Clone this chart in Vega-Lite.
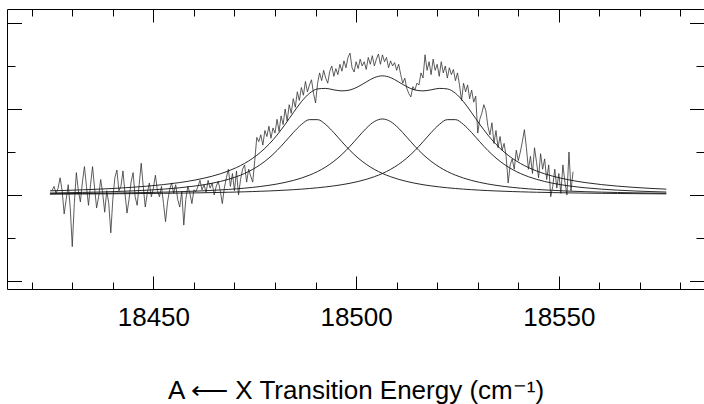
{
"$schema": "https://vega.github.io/schema/vega-lite/v6.json",
"width": 697,
"height": 280,
"autosize": {"type": "none"},
"padding": {"left": 7, "top": 9, "right": 0, "bottom": 115},
"background": "white",
"config": {"view": {"stroke": null}, "font": "Liberation Sans",
  "axis": {"grid": false, "domainColor": "#000", "domainWidth": 1, "tickColor": "#000", "tickWidth": 1, "labelColor": "#000", "titleColor": "#000", "labelFont": "Liberation Sans", "titleFont": "Liberation Sans"}},
"datasets": {
"spec": [
{"x":18425,"y":0.05},{"x":18425.5,"y":0.10},{"x":18426,"y":0.02},{"x":18426.5,"y":0.08},{"x":18427,"y":0.20},{"x":18427.5,"y":0.05},{"x":18428,"y":-0.22},{"x":18428.5,"y":-0.05},{"x":18429,"y":0.12},{"x":18429.5,"y":-0.15},
{"x":18430,"y":-0.60},{"x":18430.5,"y":-0.10},{"x":18431,"y":0.26},{"x":18431.5,"y":0.05},{"x":18432,"y":-0.08},{"x":18432.5,"y":0.15},{"x":18433,"y":0.33},{"x":18433.5,"y":0.10},{"x":18434,"y":-0.12},{"x":18434.5,"y":0.12},
{"x":18435,"y":0.33},{"x":18435.5,"y":0.08},{"x":18436,"y":-0.15},{"x":18436.5,"y":-0.02},{"x":18437,"y":0.18},{"x":18437.5,"y":0.02},{"x":18438,"y":-0.20},{"x":18438.5,"y":0.05},{"x":18439,"y":-0.10},{"x":18439.5,"y":-0.44},
{"x":18440,"y":-0.05},{"x":18440.5,"y":0.20},{"x":18441,"y":0.29},{"x":18441.5,"y":0.05},{"x":18442,"y":0.10},{"x":18442.5,"y":0.28},{"x":18443,"y":0.02},{"x":18443.5,"y":-0.21},{"x":18444,"y":-0.05},{"x":18444.5,"y":0.15},
{"x":18445,"y":0.26},{"x":18445.5,"y":-0.02},{"x":18446,"y":-0.12},{"x":18446.5,"y":0.12},{"x":18447,"y":0.37},{"x":18447.5,"y":0.10},{"x":18448,"y":-0.14},{"x":18448.5,"y":0.02},{"x":18449,"y":0.14},{"x":18449.5,"y":-0.02},
{"x":18450,"y":0.08},{"x":18450.5,"y":0.23},{"x":18451,"y":0.05},{"x":18451.5,"y":-0.02},{"x":18452,"y":0.10},{"x":18452.5,"y":-0.10},{"x":18453,"y":-0.31},{"x":18453.5,"y":-0.08},{"x":18454,"y":0.06},{"x":18454.5,"y":0.14},
{"x":18455,"y":0.02},{"x":18455.5,"y":0.12},{"x":18456,"y":-0.05},{"x":18456.5,"y":-0.14},{"x":18457,"y":0.04},{"x":18457.5,"y":-0.35},{"x":18458,"y":-0.05},{"x":18458.5,"y":0.10},{"x":18459,"y":0.02},{"x":18459.5,"y":-0.10},
{"x":18460,"y":0.06},{"x":18460.5,"y":0.04},{"x":18461,"y":0.10},{"x":18461.5,"y":0.17},{"x":18462,"y":0.06},{"x":18462.5,"y":0.12},{"x":18463,"y":0.03},{"x":18463.5,"y":0.17},{"x":18464,"y":0.08},{"x":18464.5,"y":0.14},
{"x":18465,"y":0.00},{"x":18465.5,"y":0.10},{"x":18466,"y":0.16},{"x":18466.5,"y":0.05},{"x":18467,"y":-0.10},{"x":18467.5,"y":0.08},{"x":18468,"y":0.20},{"x":18468.5,"y":0.30},{"x":18469,"y":0.10},{"x":18469.5,"y":0.25},
{"x":18470,"y":0.05},{"x":18470.5,"y":0.28},{"x":18471,"y":0.00},{"x":18471.5,"y":0.18},{"x":18472,"y":0.30},{"x":18472.5,"y":0.35},{"x":18473,"y":0.15},{"x":18473.5,"y":0.30},{"x":18474,"y":0.22},{"x":18474.5,"y":0.15},
{"x":18475,"y":0.40},{"x":18475.5,"y":0.67},{"x":18476,"y":0.62},{"x":18476.5,"y":0.70},{"x":18477,"y":0.58},{"x":18477.5,"y":0.75},{"x":18478,"y":0.68},{"x":18478.5,"y":0.80},{"x":18479,"y":0.66},{"x":18479.5,"y":0.78},
{"x":18480,"y":0.72},{"x":18480.5,"y":0.88},{"x":18481,"y":0.74},{"x":18481.5,"y":0.92},{"x":18482,"y":0.82},{"x":18482.5,"y":1.00},{"x":18483,"y":0.86},{"x":18483.5,"y":1.05},{"x":18484,"y":0.95},{"x":18484.5,"y":1.12},
{"x":18485,"y":1.02},{"x":18485.5,"y":1.20},{"x":18486,"y":1.10},{"x":18486.5,"y":1.25},{"x":18487,"y":1.16},{"x":18487.5,"y":1.32},{"x":18488,"y":1.20},{"x":18488.5,"y":1.28},{"x":18489,"y":1.34},{"x":18489.5,"y":1.18},
{"x":18490,"y":1.07},{"x":18490.5,"y":1.30},{"x":18491,"y":1.42},{"x":18491.5,"y":1.33},{"x":18492,"y":1.45},{"x":18492.5,"y":1.36},{"x":18493,"y":1.30},{"x":18493.5,"y":1.44},{"x":18494,"y":1.50},{"x":18494.5,"y":1.38},
{"x":18495,"y":1.47},{"x":18495.5,"y":1.40},{"x":18496,"y":1.52},{"x":18496.5,"y":1.44},{"x":18497,"y":1.56},{"x":18497.5,"y":1.48},{"x":18498,"y":1.60},{"x":18498.5,"y":1.65},{"x":18499,"y":1.48},{"x":18499.5,"y":1.43},
{"x":18500,"y":1.55},{"x":18500.5,"y":1.47},{"x":18501,"y":1.58},{"x":18501.5,"y":1.50},{"x":18502,"y":1.55},{"x":18502.5,"y":1.46},{"x":18503,"y":1.60},{"x":18503.5,"y":1.52},{"x":18504,"y":1.62},{"x":18504.5,"y":1.50},
{"x":18505,"y":1.58},{"x":18505.5,"y":1.64},{"x":18506,"y":1.52},{"x":18506.5,"y":1.63},{"x":18507,"y":1.55},{"x":18507.5,"y":1.60},{"x":18508,"y":1.48},{"x":18508.5,"y":1.56},{"x":18509,"y":1.50},{"x":18509.5,"y":1.54},
{"x":18510,"y":1.45},{"x":18510.5,"y":1.52},{"x":18511,"y":1.40},{"x":18511.5,"y":1.30},{"x":18512,"y":1.36},{"x":18512.5,"y":1.24},{"x":18513,"y":1.18},{"x":18513.5,"y":1.14},{"x":18514,"y":1.26},{"x":18514.5,"y":1.22},
{"x":18515,"y":1.30},{"x":18515.5,"y":1.28},{"x":18516,"y":1.42},{"x":18516.5,"y":1.36},{"x":18517,"y":1.63},{"x":18517.5,"y":1.45},{"x":18518,"y":1.55},{"x":18518.5,"y":1.40},{"x":18519,"y":1.58},{"x":18519.5,"y":1.45},
{"x":18520,"y":1.52},{"x":18520.5,"y":1.38},{"x":18521,"y":1.55},{"x":18521.5,"y":1.42},{"x":18522,"y":1.50},{"x":18522.5,"y":1.36},{"x":18523,"y":1.48},{"x":18523.5,"y":1.40},{"x":18524,"y":1.46},{"x":18524.5,"y":1.33},
{"x":18525,"y":1.42},{"x":18525.5,"y":1.28},{"x":18526,"y":1.10},{"x":18526.5,"y":1.30},{"x":18527,"y":1.20},{"x":18527.5,"y":1.28},{"x":18528,"y":1.12},{"x":18528.5,"y":1.22},{"x":18529,"y":1.08},{"x":18529.5,"y":1.15},
{"x":18530,"y":0.72},{"x":18530.5,"y":0.88},{"x":18531,"y":0.95},{"x":18531.5,"y":1.05},{"x":18532,"y":0.98},{"x":18532.5,"y":0.80},{"x":18533,"y":0.70},{"x":18533.5,"y":0.84},{"x":18534,"y":0.60},{"x":18534.5,"y":0.75},
{"x":18535,"y":0.55},{"x":18535.5,"y":0.68},{"x":18536,"y":0.52},{"x":18536.5,"y":0.60},{"x":18537,"y":0.45},{"x":18537.5,"y":0.14},{"x":18538,"y":0.35},{"x":18538.5,"y":0.42},{"x":18539,"y":0.30},{"x":18539.5,"y":0.52},
{"x":18540,"y":0.40},{"x":18540.5,"y":0.50},{"x":18541,"y":0.62},{"x":18541.5,"y":0.76},{"x":18542,"y":0.55},{"x":18542.5,"y":0.30},{"x":18543,"y":0.45},{"x":18543.5,"y":0.25},{"x":18544,"y":0.55},{"x":18544.5,"y":0.38},
{"x":18545,"y":0.20},{"x":18545.5,"y":0.48},{"x":18546,"y":0.30},{"x":18546.5,"y":0.42},{"x":18547,"y":0.18},{"x":18547.5,"y":0.35},{"x":18548,"y":-0.02},{"x":18548.5,"y":0.10},{"x":18549,"y":0.30},{"x":18549.5,"y":0.08},
{"x":18550,"y":0.25},{"x":18550.5,"y":0.02},{"x":18551,"y":0.35},{"x":18551.5,"y":0.15},{"x":18552,"y":0.00},{"x":18552.5,"y":0.50},{"x":18553,"y":0.05},{"x":18553.5,"y":0.27}
],
"fit": [
{"x":18424.5,"c":"L1","y":0.0233},{"x":18424.5,"c":"L2","y":0.0148},{"x":18424.5,"c":"L3","y":0.0102},{"x":18424.5,"c":"S","y":0.0483},
{"x":18428.5,"c":"L1","y":0.0264},{"x":18428.5,"c":"L2","y":0.0163},{"x":18428.5,"c":"L3","y":0.0111},{"x":18428.5,"c":"S","y":0.0538},
{"x":18432.5,"c":"L1","y":0.0301},{"x":18432.5,"c":"L2","y":0.0181},{"x":18432.5,"c":"L3","y":0.0121},{"x":18432.5,"c":"S","y":0.0603},
{"x":18436.5,"c":"L1","y":0.0346},{"x":18436.5,"c":"L2","y":0.0202},{"x":18436.5,"c":"L3","y":0.0132},{"x":18436.5,"c":"S","y":0.0680},
{"x":18440.5,"c":"L1","y":0.0402},{"x":18440.5,"c":"L2","y":0.0226},{"x":18440.5,"c":"L3","y":0.0145},{"x":18440.5,"c":"S","y":0.0773},
{"x":18444.5,"c":"L1","y":0.0473},{"x":18444.5,"c":"L2","y":0.0256},{"x":18444.5,"c":"L3","y":0.0159},{"x":18444.5,"c":"S","y":0.0888},
{"x":18448.5,"c":"L1","y":0.0564},{"x":18448.5,"c":"L2","y":0.0291},{"x":18448.5,"c":"L3","y":0.0176},{"x":18448.5,"c":"S","y":0.1031},
{"x":18452.5,"c":"L1","y":0.0682},{"x":18452.5,"c":"L2","y":0.0334},{"x":18452.5,"c":"L3","y":0.0196},{"x":18452.5,"c":"S","y":0.1212},
{"x":18456.5,"c":"L1","y":0.0841},{"x":18456.5,"c":"L2","y":0.0387},{"x":18456.5,"c":"L3","y":0.0220},{"x":18456.5,"c":"S","y":0.1448},
{"x":18460.5,"c":"L1","y":0.1059},{"x":18460.5,"c":"L2","y":0.0454},{"x":18460.5,"c":"L3","y":0.0248},{"x":18460.5,"c":"S","y":0.1761},
{"x":18462.5,"c":"L1","y":0.1200},{"x":18462.5,"c":"L2","y":0.0494},{"x":18462.5,"c":"L3","y":0.0264},{"x":18462.5,"c":"S","y":0.1958},
{"x":18464.5,"c":"L1","y":0.1369},{"x":18464.5,"c":"L2","y":0.0539},{"x":18464.5,"c":"L3","y":0.0281},{"x":18464.5,"c":"S","y":0.2189},
{"x":18466.5,"c":"L1","y":0.1573},{"x":18466.5,"c":"L2","y":0.0590},{"x":18466.5,"c":"L3","y":0.0301},{"x":18466.5,"c":"S","y":0.2464},
{"x":18468.5,"c":"L1","y":0.1822},{"x":18468.5,"c":"L2","y":0.0649},{"x":18468.5,"c":"L3","y":0.0322},{"x":18468.5,"c":"S","y":0.2793},
{"x":18470.5,"c":"L1","y":0.2129},{"x":18470.5,"c":"L2","y":0.0718},{"x":18470.5,"c":"L3","y":0.0346},{"x":18470.5,"c":"S","y":0.3193},
{"x":18472.5,"c":"L1","y":0.2508},{"x":18472.5,"c":"L2","y":0.0797},{"x":18472.5,"c":"L3","y":0.0373},{"x":18472.5,"c":"S","y":0.3678},
{"x":18474.5,"c":"L1","y":0.2981},{"x":18474.5,"c":"L2","y":0.0889},{"x":18474.5,"c":"L3","y":0.0402},{"x":18474.5,"c":"S","y":0.4272},
{"x":18476.5,"c":"L1","y":0.3570},{"x":18476.5,"c":"L2","y":0.0998},{"x":18476.5,"c":"L3","y":0.0436},{"x":18476.5,"c":"S","y":0.5004},
{"x":18478.5,"c":"L1","y":0.4298},{"x":18478.5,"c":"L2","y":0.1126},{"x":18478.5,"c":"L3","y":0.0473},{"x":18478.5,"c":"S","y":0.5897},
{"x":18480.5,"c":"L1","y":0.5177},{"x":18480.5,"c":"L2","y":0.1280},{"x":18480.5,"c":"L3","y":0.0515},{"x":18480.5,"c":"S","y":0.6972},
{"x":18482.5,"c":"L1","y":0.6190},{"x":18482.5,"c":"L2","y":0.1466},{"x":18482.5,"c":"L3","y":0.0564},{"x":18482.5,"c":"S","y":0.8220},
{"x":18484.5,"c":"L1","y":0.7255},{"x":18484.5,"c":"L2","y":0.1691},{"x":18484.5,"c":"L3","y":0.0619},{"x":18484.5,"c":"S","y":0.9565},
{"x":18486.5,"c":"L1","y":0.8196},{"x":18486.5,"c":"L2","y":0.1967},{"x":18486.5,"c":"L3","y":0.0682},{"x":18486.5,"c":"S","y":1.0845},
{"x":18488.5,"c":"L1","y":0.8763},{"x":18488.5,"c":"L2","y":0.2308},{"x":18488.5,"c":"L3","y":0.0756},{"x":18488.5,"c":"S","y":1.1827},
{"x":18490.5,"c":"L1","y":0.8763},{"x":18490.5,"c":"L2","y":0.2732},{"x":18490.5,"c":"L3","y":0.0841},{"x":18490.5,"c":"S","y":1.2336},
{"x":18492.5,"c":"L1","y":0.8196},{"x":18492.5,"c":"L2","y":0.3260},{"x":18492.5,"c":"L3","y":0.0941},{"x":18492.5,"c":"S","y":1.2397},
{"x":18494.5,"c":"L1","y":0.7255},{"x":18494.5,"c":"L2","y":0.3915},{"x":18494.5,"c":"L3","y":0.1059},{"x":18494.5,"c":"S","y":1.2229},
{"x":18496.5,"c":"L1","y":0.6190},{"x":18496.5,"c":"L2","y":0.4719},{"x":18496.5,"c":"L3","y":0.1200},{"x":18496.5,"c":"S","y":1.2109},
{"x":18498.5,"c":"L1","y":0.5177},{"x":18498.5,"c":"L2","y":0.5670},{"x":18498.5,"c":"L3","y":0.1369},{"x":18498.5,"c":"S","y":1.2216},
{"x":18500.5,"c":"L1","y":0.4298},{"x":18500.5,"c":"L2","y":0.6726},{"x":18500.5,"c":"L3","y":0.1573},{"x":18500.5,"c":"S","y":1.2597},
{"x":18502.5,"c":"L1","y":0.3570},{"x":18502.5,"c":"L2","y":0.7756},{"x":18502.5,"c":"L3","y":0.1822},{"x":18502.5,"c":"S","y":1.3148},
{"x":18504.5,"c":"L1","y":0.2981},{"x":18504.5,"c":"L2","y":0.8542},{"x":18504.5,"c":"L3","y":0.2129},{"x":18504.5,"c":"S","y":1.3652},
{"x":18506.5,"c":"L1","y":0.2508},{"x":18506.5,"c":"L2","y":0.8840},{"x":18506.5,"c":"L3","y":0.2508},{"x":18506.5,"c":"S","y":1.3856},
{"x":18508.5,"c":"L1","y":0.2129},{"x":18508.5,"c":"L2","y":0.8542},{"x":18508.5,"c":"L3","y":0.2981},{"x":18508.5,"c":"S","y":1.3652},
{"x":18510.5,"c":"L1","y":0.1822},{"x":18510.5,"c":"L2","y":0.7756},{"x":18510.5,"c":"L3","y":0.3570},{"x":18510.5,"c":"S","y":1.3148},
{"x":18512.5,"c":"L1","y":0.1573},{"x":18512.5,"c":"L2","y":0.6726},{"x":18512.5,"c":"L3","y":0.4298},{"x":18512.5,"c":"S","y":1.2597},
{"x":18514.5,"c":"L1","y":0.1369},{"x":18514.5,"c":"L2","y":0.5670},{"x":18514.5,"c":"L3","y":0.5177},{"x":18514.5,"c":"S","y":1.2216},
{"x":18516.5,"c":"L1","y":0.1200},{"x":18516.5,"c":"L2","y":0.4719},{"x":18516.5,"c":"L3","y":0.6190},{"x":18516.5,"c":"S","y":1.2109},
{"x":18518.5,"c":"L1","y":0.1059},{"x":18518.5,"c":"L2","y":0.3915},{"x":18518.5,"c":"L3","y":0.7255},{"x":18518.5,"c":"S","y":1.2229},
{"x":18520.5,"c":"L1","y":0.0941},{"x":18520.5,"c":"L2","y":0.3260},{"x":18520.5,"c":"L3","y":0.8196},{"x":18520.5,"c":"S","y":1.2397},
{"x":18522.5,"c":"L1","y":0.0841},{"x":18522.5,"c":"L2","y":0.2732},{"x":18522.5,"c":"L3","y":0.8763},{"x":18522.5,"c":"S","y":1.2336},
{"x":18524.5,"c":"L1","y":0.0756},{"x":18524.5,"c":"L2","y":0.2308},{"x":18524.5,"c":"L3","y":0.8763},{"x":18524.5,"c":"S","y":1.1827},
{"x":18526.5,"c":"L1","y":0.0682},{"x":18526.5,"c":"L2","y":0.1967},{"x":18526.5,"c":"L3","y":0.8196},{"x":18526.5,"c":"S","y":1.0845},
{"x":18528.5,"c":"L1","y":0.0619},{"x":18528.5,"c":"L2","y":0.1691},{"x":18528.5,"c":"L3","y":0.7255},{"x":18528.5,"c":"S","y":0.9565},
{"x":18530.5,"c":"L1","y":0.0564},{"x":18530.5,"c":"L2","y":0.1466},{"x":18530.5,"c":"L3","y":0.6190},{"x":18530.5,"c":"S","y":0.8220},
{"x":18532.5,"c":"L1","y":0.0515},{"x":18532.5,"c":"L2","y":0.1280},{"x":18532.5,"c":"L3","y":0.5177},{"x":18532.5,"c":"S","y":0.6972},
{"x":18534.5,"c":"L1","y":0.0473},{"x":18534.5,"c":"L2","y":0.1126},{"x":18534.5,"c":"L3","y":0.4298},{"x":18534.5,"c":"S","y":0.5897},
{"x":18536.5,"c":"L1","y":0.0436},{"x":18536.5,"c":"L2","y":0.0998},{"x":18536.5,"c":"L3","y":0.3570},{"x":18536.5,"c":"S","y":0.5004},
{"x":18538.5,"c":"L1","y":0.0402},{"x":18538.5,"c":"L2","y":0.0889},{"x":18538.5,"c":"L3","y":0.2981},{"x":18538.5,"c":"S","y":0.4272},
{"x":18540.5,"c":"L1","y":0.0373},{"x":18540.5,"c":"L2","y":0.0797},{"x":18540.5,"c":"L3","y":0.2508},{"x":18540.5,"c":"S","y":0.3678},
{"x":18542.5,"c":"L1","y":0.0346},{"x":18542.5,"c":"L2","y":0.0718},{"x":18542.5,"c":"L3","y":0.2129},{"x":18542.5,"c":"S","y":0.3193},
{"x":18544.5,"c":"L1","y":0.0322},{"x":18544.5,"c":"L2","y":0.0649},{"x":18544.5,"c":"L3","y":0.1822},{"x":18544.5,"c":"S","y":0.2793},
{"x":18548.5,"c":"L1","y":0.0281},{"x":18548.5,"c":"L2","y":0.0539},{"x":18548.5,"c":"L3","y":0.1369},{"x":18548.5,"c":"S","y":0.2189},
{"x":18552.5,"c":"L1","y":0.0248},{"x":18552.5,"c":"L2","y":0.0454},{"x":18552.5,"c":"L3","y":0.1059},{"x":18552.5,"c":"S","y":0.1761},
{"x":18556.5,"c":"L1","y":0.0220},{"x":18556.5,"c":"L2","y":0.0387},{"x":18556.5,"c":"L3","y":0.0841},{"x":18556.5,"c":"S","y":0.1448},
{"x":18560.5,"c":"L1","y":0.0196},{"x":18560.5,"c":"L2","y":0.0334},{"x":18560.5,"c":"L3","y":0.0682},{"x":18560.5,"c":"S","y":0.1212},
{"x":18564.5,"c":"L1","y":0.0176},{"x":18564.5,"c":"L2","y":0.0291},{"x":18564.5,"c":"L3","y":0.0564},{"x":18564.5,"c":"S","y":0.1031},
{"x":18568.5,"c":"L1","y":0.0159},{"x":18568.5,"c":"L2","y":0.0256},{"x":18568.5,"c":"L3","y":0.0473},{"x":18568.5,"c":"S","y":0.0888},
{"x":18572.5,"c":"L1","y":0.0145},{"x":18572.5,"c":"L2","y":0.0226},{"x":18572.5,"c":"L3","y":0.0402},{"x":18572.5,"c":"S","y":0.0773},
{"x":18576.5,"c":"L1","y":0.0132},{"x":18576.5,"c":"L2","y":0.0202},{"x":18576.5,"c":"L3","y":0.0346},{"x":18576.5,"c":"S","y":0.0680}
]
},
"layer": [
{
"data": {"name": "spec"},
"mark": {"type": "line", "color": "#333", "strokeWidth": 0.8},
"encoding": {
 "x": {"field": "x", "type": "quantitative",
   "scale": {"domain": [18413.9, 18585.8], "nice": false, "zero": false},
   "axis": {"orient": "bottom",
     "values": [18420,18430,18440,18450,18460,18470,18480,18490,18500,18510,18520,18530,18540,18550,18560,18570,18580],
     "format": "d",
     "labelExpr": "datum.value % 50 === 0 ? datum.label : ''",
     "tickSize": {"condition": {"test": "datum.value % 50 === 0", "value": -13}, "value": -7},
     "labelPadding": 49, "labelBaseline": "alphabetic", "labelFontSize": 26, "labelFlush": false, "labelOverlap": false,
     "title": "A ⟵ X Transition Energy (cm⁻¹)", "titleFontSize": 26, "titleFontWeight": "normal",
     "titleY": 109, "titleBaseline": "alphabetic"}},
 "y": {"field": "y", "type": "quantitative",
   "scale": {"domain": [-1.093, 2.163], "nice": false, "zero": false},
   "axis": {"orient": "left", "values": [-1,-0.5,0,0.5,1,1.5,2], "labels": false, "title": null,
     "tickSize": {"condition": {"test": "datum.value % 1 === 0", "value": -14.5}, "value": -8}}}
}
},
{
"data": {"name": "fit"},
"mark": {"type": "line", "color": "#111", "strokeWidth": 0.9, "interpolate": "monotone"},
"encoding": {
 "x": {"field": "x", "type": "quantitative",
   "scale": {"domain": [18413.9, 18585.8], "nice": false, "zero": false},
   "axis": {"orient": "top",
     "values": [18420,18430,18440,18450,18460,18470,18480,18490,18500,18510,18520,18530,18540,18550,18560,18570,18580],
     "labels": false, "title": null,
     "tickSize": {"condition": {"test": "datum.value % 50 === 0", "value": -13}, "value": -7}}},
 "y": {"field": "y", "type": "quantitative",
   "scale": {"domain": [-1.093, 2.163], "nice": false, "zero": false},
   "axis": {"orient": "right", "values": [-1,-0.5,0,0.5,1,1.5,2], "labels": false, "title": null,
     "tickSize": {"condition": {"test": "datum.value % 1 === 0", "value": -14.5}, "value": -8}}},
 "detail": {"field": "c", "type": "nominal"}
}
}
],
"resolve": {"axis": {"x": "independent", "y": "independent"}}
}
